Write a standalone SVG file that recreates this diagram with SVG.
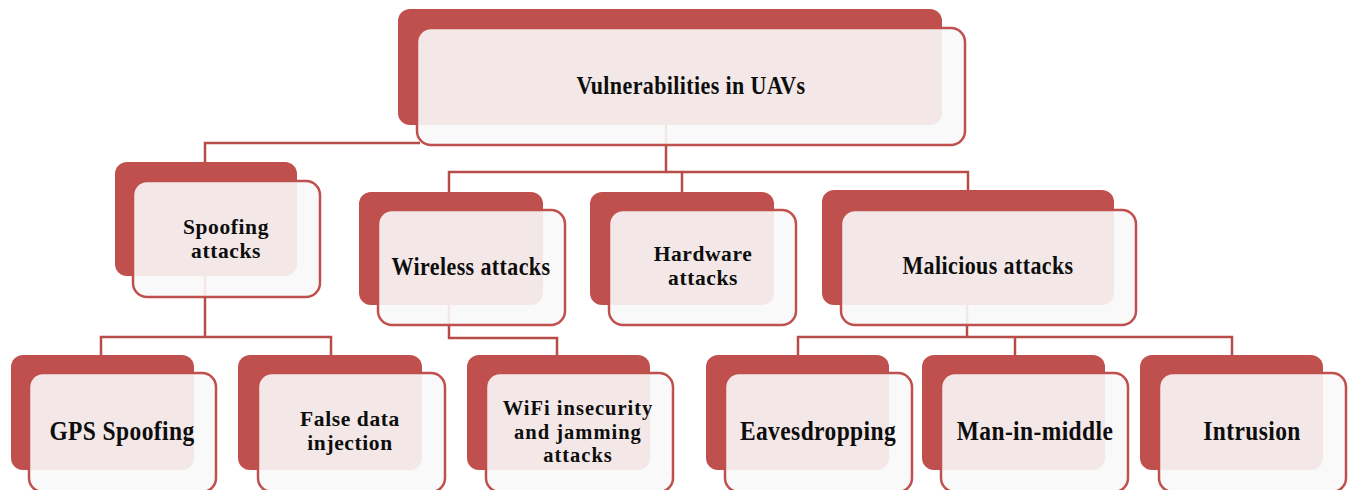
<svg xmlns="http://www.w3.org/2000/svg" width="1348" height="490" viewBox="0 0 1348 490">
  <style>
    .back { fill: #c0504d; }
    .front { fill: #f8f8f8; fill-opacity: 0.9; stroke: #c0504d; stroke-width: 2.5; }
    .conn { fill: none; stroke: #b84c49; stroke-width: 2.5; }
    .t { font-family: "Liberation Serif", "Times New Roman", serif; font-weight: bold; font-size: 22px; fill: #0d0d0d; text-anchor: middle; letter-spacing: 0.4px; }
    .b { font-size: 23.5px; }
    .m { font-size: 21.5px; letter-spacing: 0.6px; }
    .w { font-size: 20.5px; letter-spacing: 1px; }
  </style>
  <rect width="1348" height="490" fill="#ffffff"/>

  <!-- tree connectors -->
  <g id="connectors">
    <path class="conn" d="M420,143 H205 V162"/>
    <path class="conn" d="M666,125 V172"/>
    <path class="conn" d="M449,192 V172 H968 V190"/>
    <path class="conn" d="M682,172 V192"/>
    <path class="conn" d="M205,276 V337"/>
    <path class="conn" d="M101,355 V337 H331 V355"/>
    <path class="conn" d="M449,305 V338 H557 V355"/>
    <path class="conn" d="M967,305 V337"/>
    <path class="conn" d="M798,355 V337 H1232 V355"/>
    <path class="conn" d="M1015,337 V355"/>
  </g>

  <!-- single-line labels are stretched slightly taller than the regular face -->
  <g id="root">
    <rect class="back" x="398" y="9" width="544" height="116" rx="12"/>
    <rect class="front" x="417" y="28" width="548" height="117" rx="14"/>
    <text class="t" transform="translate(691 94) scale(1 1.12)">Vulnerabilities in UAVs</text>
  </g>

  <g id="spoofing">
    <rect class="back" x="115" y="162" width="182" height="114" rx="12"/>
    <rect class="front" x="133" y="181" width="187" height="116" rx="14"/>
    <text class="t m" x="226" y="234">Spoofing</text>
    <text class="t m" x="226" y="258">attacks</text>
  </g>

  <g id="wireless">
    <rect class="back" x="359" y="192" width="184" height="113" rx="12"/>
    <rect class="front" x="378" y="210" width="187" height="115" rx="14"/>
    <text class="t" transform="translate(471 275) scale(1 1.12)">Wireless attacks</text>
  </g>

  <g id="hardware">
    <rect class="back" x="590" y="192" width="184" height="113" rx="12"/>
    <rect class="front" x="609" y="210" width="187" height="115" rx="14"/>
    <text class="t m" x="703" y="261">Hardware</text>
    <text class="t m" x="703" y="285">attacks</text>
  </g>

  <g id="malicious">
    <rect class="back" x="822" y="190" width="292" height="115" rx="12"/>
    <rect class="front" x="841" y="210" width="295" height="115" rx="14"/>
    <text class="t" transform="translate(988 274) scale(1 1.12)">Malicious attacks</text>
  </g>

  <g id="gps">
    <rect class="back" x="11" y="355" width="183" height="115" rx="12"/>
    <rect class="front" x="29" y="373" width="187" height="119" rx="14"/>
    <text class="t b" transform="translate(122 440) scale(1 1.12)">GPS Spoofing</text>
  </g>

  <g id="false-data">
    <rect class="back" x="238" y="355" width="184" height="115" rx="12"/>
    <rect class="front" x="258" y="373" width="187" height="119" rx="14"/>
    <text class="t m" x="350" y="426">False data</text>
    <text class="t m" x="350" y="450">injection</text>
  </g>

  <g id="wifi">
    <rect class="back" x="467" y="355" width="183" height="115" rx="12"/>
    <rect class="front" x="486" y="373" width="187" height="119" rx="14"/>
    <text class="t w" x="578" y="415">WiFi insecurity</text>
    <text class="t w" x="578" y="438.5">and jamming</text>
    <text class="t w" x="578" y="462">attacks</text>
  </g>

  <g id="eavesdropping">
    <rect class="back" x="706" y="355" width="183" height="115" rx="12"/>
    <rect class="front" x="725" y="373" width="187" height="119" rx="14"/>
    <text class="t b" transform="translate(818 440) scale(1 1.12)">Eavesdropping</text>
  </g>

  <g id="man-in-middle">
    <rect class="back" x="922" y="355" width="183" height="115" rx="12"/>
    <rect class="front" x="941" y="373" width="187" height="119" rx="14"/>
    <text class="t b" transform="translate(1035 440) scale(1 1.12)">Man-in-middle</text>
  </g>

  <g id="intrusion">
    <rect class="back" x="1140" y="355" width="183" height="115" rx="12"/>
    <rect class="front" x="1159" y="373" width="187" height="119" rx="14"/>
    <text class="t b" transform="translate(1252 440) scale(1 1.12)">Intrusion</text>
  </g>
</svg>
